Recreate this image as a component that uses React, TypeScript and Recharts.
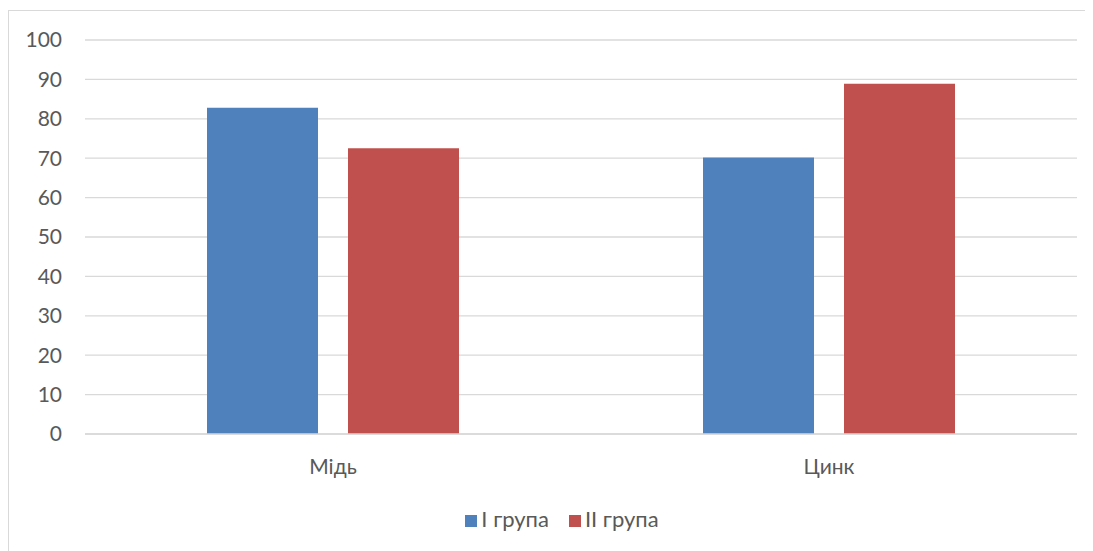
import React from 'react';
import { BarChart, Bar, XAxis, YAxis, CartesianGrid, Legend } from 'recharts';

const categories = ['Мідь', 'Цинк'];
const group1 = [82.8, 70.2];
const group2 = [72.5, 88.9];
const yTicks = [0, 10, 20, 30, 40, 50, 60, 70, 80, 90, 100];

const data = categories.map((c, i) => ({ name: c, g1: group1[i], g2: group2[i] }));

const FONT = 'Lato, "Open Sans", sans-serif';

export default function App() {
  return (
    <div
      style={{
        position: 'relative',
        marginTop: 2,
        width: 1084,
        height: 540,
        borderLeft: '1px solid #d9d9d9',
        borderTop: '1px solid #d9d9d9',
        fontFamily: FONT,
        background: '#fff',
      }}
    >
      <BarChart
        width={1084}
        height={540}
        data={data}
        margin={{ top: 29, right: 16, left: 0, bottom: 60 }}
        barGap={30}
        barSize={111}
      >
        <CartesianGrid vertical={false} stroke="#d9d9d9" strokeWidth={1.3} />
        <XAxis
          dataKey="name"
          axisLine={{ stroke: '#d9d9d9', strokeWidth: 1.3 }}
          tickLine={false}
          tickSize={0}
          tickMargin={25}
          height={30}
          tick={{ fill: '#595959', fontSize: 21, fontFamily: FONT }}
        />
        <YAxis
          domain={[0, 100]}
          ticks={yTicks}
          interval={0}
          axisLine={false}
          tickLine={false}
          tickSize={6}
          tickMargin={17}
          width={76}
          tick={{ fill: '#595959', fontSize: 21, fontFamily: FONT }}
        />
        <Legend
          verticalAlign="bottom"
          iconType="square"
          iconSize={12}
          wrapperStyle={{ fontSize: 22, color: '#595959', left: 24, bottom: 19, fontFamily: FONT }}
          formatter={(v: string, _e: any, i: number) => (
            <span style={{ color: '#595959', marginRight: i === 0 ? 10 : 0 }}>{v}</span>
          )}
        />
        <Bar dataKey="g1" name="I група" fill="#4f81bd" isAnimationActive={false} />
        <Bar dataKey="g2" name="II група" fill="#c0504d" isAnimationActive={false} />
      </BarChart>
    </div>
  );
}
